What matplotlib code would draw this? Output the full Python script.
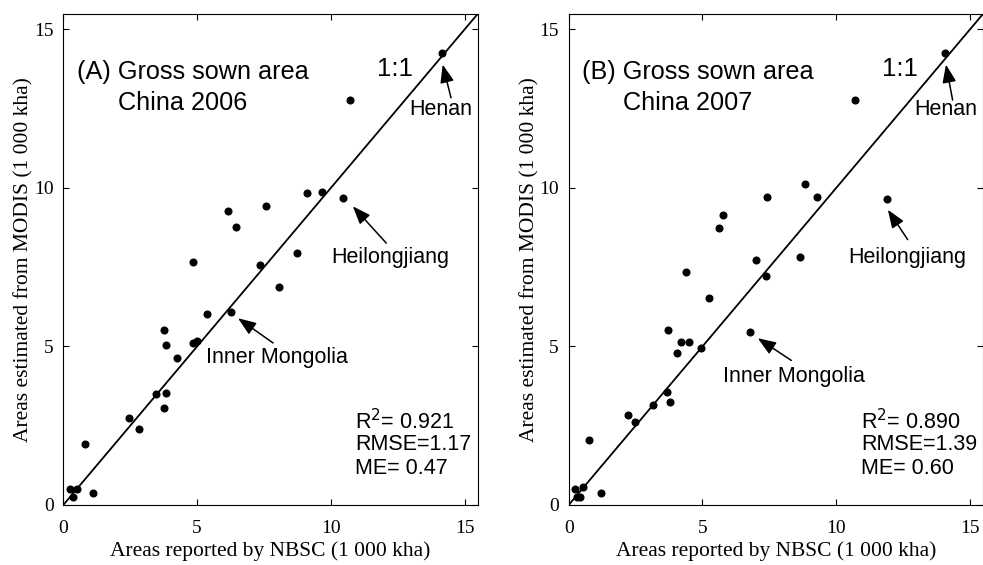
import matplotlib.pyplot as plt

# NBSC-reported vs MODIS-estimated gross sown area (1 000 kha)
nbsc_2006 = [14.16, 10.72, 9.12, 9.65, 10.45, 6.15, 7.59, 6.46, 8.75, 4.83,
             7.34, 8.06, 5.36, 6.28, 3.77, 3.82, 4.85, 4.98, 4.24, 3.47,
             3.83, 3.75, 2.45, 2.84, 0.82, 0.25, 0.50, 0.37, 1.12]
modis_2006 = [14.26, 12.77, 9.85, 9.88, 9.68, 9.26, 9.42, 8.78, 7.94, 7.66,
              7.56, 6.89, 6.02, 6.10, 5.51, 5.05, 5.11, 5.18, 4.64, 3.49,
              3.53, 3.07, 2.75, 2.41, 1.92, 0.51, 0.51, 0.24, 0.37]

nbsc_2007 = [14.07, 10.71, 8.85, 9.27, 7.40, 11.89, 5.78, 5.61, 8.63, 7.01,
             4.38, 7.39, 5.25, 3.71, 6.78, 4.20, 4.48, 4.95, 4.04, 3.66,
             3.77, 3.15, 2.21, 2.47, 0.77, 0.25, 0.52, 0.32, 0.42, 1.19]
modis_2007 = [14.24, 12.77, 10.13, 9.70, 9.70, 9.65, 9.16, 8.75, 7.82, 7.73,
              7.34, 7.21, 6.54, 5.53, 5.44, 5.15, 5.15, 4.96, 4.80, 3.57,
              3.26, 3.15, 2.83, 2.61, 2.05, 0.52, 0.57, 0.24, 0.26, 0.39]

ticks = [0, 5, 10, 15]
stats_2006 = ["R$^2$= 0.921", "RMSE=1.17", "ME= 0.47"]
stats_2007 = ["R$^2$= 0.890", "RMSE=1.39", "ME= 0.60"]

# (label, text pos, arrow tail, arrow head)
labels_2006 = [
    ("Henan", (14.09, 12.47), (14.49, 12.84), (14.18, 13.89)),
    ("Heilongjiang", (12.22, 7.79), (12.07, 8.26), (10.82, 9.42)),
    ("Inner Mongolia", (7.97, 4.66), (7.84, 5.11), (6.53, 5.89)),
]
labels_2007 = [
    ("Henan", (14.10, 12.47), (14.35, 12.77), (14.10, 13.89)),
    ("Heilongjiang", (12.67, 7.79), (12.67, 8.37), (11.93, 9.31)),
    ("Inner Mongolia", (8.43, 4.05), (8.32, 4.56), (7.07, 5.26)),
]

SANS = "Liberation Sans"
SERIF = "Liberation Serif"

fig = plt.figure(figsize=(9.83, 5.65), dpi=100)


def draw_panel(rect, x, y, title, year, stats, labels):
    ax = fig.add_axes(rect)
    lim = 15.5
    ax.plot([0, lim], [0, lim], color="black", lw=1.3)
    ax.plot(x, y, "o", color="black", ms=4.8, mec="black")
    ax.set_xlim(0, lim)
    ax.set_ylim(0, lim)
    ax.set_xticks(ticks)
    ax.set_yticks(ticks)
    ax.tick_params(direction="in", top=True, right=True, length=4,
                   labelsize=14)
    ax.tick_params(axis="x", pad=11)
    ax.tick_params(axis="y", pad=7)
    for lab in ax.get_xticklabels() + ax.get_yticklabels():
        lab.set_family(SERIF)
    for sp in ax.spines.values():
        sp.set_linewidth(0.8)
    ax.set_xlabel("Areas reported by NBSC (1 000 kha)", family=SERIF,
                  fontsize=15.5, labelpad=3)
    ax.set_ylabel("Areas estimated from MODIS (1 000 kha)", family=SERIF,
                  fontsize=15.5, labelpad=0)

    ax.text(0.5, 13.64, title, family=SANS, fontsize=18.2, va="center")
    ax.text(2.04, 12.69, year, family=SANS, fontsize=18.2, va="center")
    ax.text(12.38, 13.74, "1:1", family=SANS, fontsize=18.5, va="center",
            ha="center")

    for i, s in enumerate(stats):
        ax.text(10.92, 2.63 - i * 0.735, s, family=SANS, fontsize=15.5,
                va="center")

    for name, pos, tail, head in labels:
        ax.text(pos[0], pos[1], name, family=SANS, fontsize=15.5,
                ha="center", va="center")
        ax.annotate("", xy=head, xytext=tail,
                    arrowprops=dict(arrowstyle="-|>,head_length=1.1,head_width=0.42",
                                    color="black", lw=1.1, shrinkA=0, shrinkB=0))
    return ax


draw_panel([0.0644, 0.1062, 0.4219, 0.8699], nbsc_2006, modis_2006,
           "(A) Gross sown area", "China 2006", stats_2006, labels_2006)
draw_panel([0.5785, 0.1062, 0.4219, 0.8699], nbsc_2007, modis_2007,
           "(B) Gross sown area", "China 2007", stats_2007, labels_2007)

fig.savefig("out.png", dpi=100)
